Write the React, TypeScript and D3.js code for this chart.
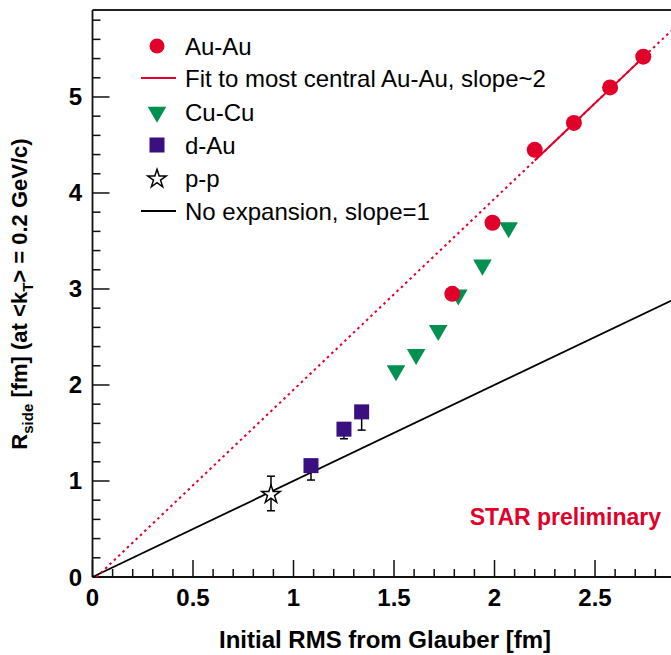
import React from "react";
import * as d3 from "d3";

// Au-Au (red circles)
const auX = [1.79, 1.99, 2.2, 2.395, 2.575, 2.74];
const auY = [2.95, 3.69, 4.45, 4.73, 5.1, 5.42];
// Cu-Cu (green down triangles)
const cuX = [1.51, 1.61, 1.72, 1.82, 1.94, 2.07];
const cuY = [2.15, 2.32, 2.57, 2.94, 3.25, 3.64];
// d-Au (purple squares) with lower errors
const dX = [1.087, 1.251, 1.339];
const dY = [1.16, 1.54, 1.72];
const dErr = [0.15, 0.1, 0.19];
// p-p (open star)
const ppX = [0.888];
const ppY = [0.87];
const ppErr = [0.18];
// fit to most central Au-Au
const fitSlope = 1.99;
const fitIntercept = -0.04;
const fitRange = [2.2, 2.74];

const xTicks = [0, 0.5, 1, 1.5, 2, 2.5];
const yTicks = [0, 1, 2, 3, 4, 5];

const legendItems = [
  "Au-Au",
  "Fit to most central Au-Au, slope~2",
  "Cu-Cu",
  "d-Au",
  "p-p",
  "No expansion, slope=1",
];

const RED = "#e0002a";
const GREEN = "#009150";
const PURPLE = "#3a0f80";

const W = 671;
const H = 655;
const m = { left: 92.5, right: 671, top: 10, bottom: 577 };

const App = () => {
  const x = d3.scaleLinear().domain([0, 2.878]).range([m.left, m.right]);
  const y = d3.scaleLinear().domain([0, 5.906]).range([m.bottom, m.top]);

  const line = d3
    .line<[number, number]>()
    .x((d) => x(d[0]))
    .y((d) => y(d[1]));
  const fit = (v: number) => fitSlope * v + fitIntercept;
  const xMax = x.domain()[1];
  const x0 = -fitIntercept / fitSlope;

  const star = d3.symbol().type(d3.symbolStar).size(105)();
  const tri = d3.symbol().type(d3.symbolTriangle).size(150)();

  const xMinor = d3.range(0, 29).map((i) => i / 10);
  const yMinor = d3.range(0, 30).map((i) => i / 5);

  const font = "'Liberation Sans', Arial, Helvetica, sans-serif";
  const legY = [46, 78, 112, 145, 178, 211];
  const legX = 157;

  return (
    <svg
      width={W}
      height={H}
      style={{ position: "absolute", left: 0, top: 0, background: "#fff" }}
      fontFamily={font}
    >
      {/* frame */}
      <line x1={m.left} x2={m.right} y1={m.top} y2={m.top} stroke="#222" strokeWidth={1.8} />
      <line x1={m.left} x2={m.left} y1={m.top} y2={m.bottom} stroke="#111" strokeWidth={1.8} />
      <line x1={m.left} x2={m.right} y1={m.bottom} y2={m.bottom} stroke="#111" strokeWidth={1.8} />

      {/* x ticks */}
      {xMinor.map((t, i) => {
        const major = i % 5 === 0;
        return (
          <line
            key={"xm" + i}
            x1={x(t)}
            x2={x(t)}
            y1={m.bottom}
            y2={m.bottom - (major ? 17 : 8)}
            stroke="#111"
            strokeWidth={1.5}
          />
        );
      })}
      {xTicks.map((t) => (
        <text
          key={"xl" + t}
          x={x(t)}
          y={606}
          textAnchor="middle"
          fontSize={24}
          fontWeight="bold"
        >
          {t}
        </text>
      ))}

      {/* y ticks */}
      {yMinor.map((t, i) => {
        const major = i % 5 === 0;
        return (
          <line
            key={"ym" + i}
            x1={m.left}
            x2={m.left + (major ? 17 : 8)}
            y1={y(t)}
            y2={y(t)}
            stroke="#111"
            strokeWidth={1.5}
          />
        );
      })}
      {yTicks.map((t) => (
        <text
          key={"yl" + t}
          x={82}
          y={y(t) + 8.5}
          textAnchor="end"
          fontSize={24}
          fontWeight="bold"
        >
          {t}
        </text>
      ))}

      {/* axis titles */}
      <text x={385} y={648} textAnchor="middle" fontSize={24} fontWeight="bold">
        Initial RMS from Glauber [fm]
      </text>
      <text
        transform={`translate(27,294) rotate(-90)`}
        textAnchor="middle"
        fontSize={22}
        fontWeight="bold"
      >
        R
        <tspan fontSize={15} dy={5.5}>side</tspan>
        <tspan dy={-5.5}> [fm] (at &lt;k</tspan>
        <tspan fontSize={15} dy={5.5}>T</tspan>
        <tspan dy={-5.5}>&gt; = 0.2 GeV/c)</tspan>
      </text>

      {/* no expansion line */}
      <path
        d={line([
          [0, 0],
          [xMax, xMax],
        ]) ?? ""}
        stroke="#000"
        strokeWidth={1.8}
        fill="none"
      />
      {/* fit: dotted extrapolation + solid range */}
      <path
        d={line([
          [x0, 0],
          [xMax, fit(xMax)],
        ]) ?? ""}
        stroke={RED}
        strokeWidth={2}
        strokeDasharray="2.5,3.5"
        fill="none"
      />
      <path
        d={line([
          [fitRange[0], fit(fitRange[0])],
          [fitRange[1], fit(fitRange[1])],
        ]) ?? ""}
        stroke={RED}
        strokeWidth={2}
        fill="none"
      />

      {/* error bars */}
      {dX.map((v, i) => (
        <g key={"de" + i} stroke="#000" strokeWidth={1.5}>
          <line x1={x(v)} x2={x(v)} y1={y(dY[i])} y2={y(dY[i] - dErr[i])} />
          <line x1={x(v) - 4} x2={x(v) + 4} y1={y(dY[i] - dErr[i])} y2={y(dY[i] - dErr[i])} />
        </g>
      ))}
      {ppX.map((v, i) => (
        <g key={"pe" + i} stroke="#000" strokeWidth={1.5}>
          <line x1={x(v)} x2={x(v)} y1={y(ppY[i] - ppErr[i])} y2={y(ppY[i] + ppErr[i])} />
          <line x1={x(v) - 4} x2={x(v) + 4} y1={y(ppY[i] - ppErr[i])} y2={y(ppY[i] - ppErr[i])} />
          <line x1={x(v) - 4} x2={x(v) + 4} y1={y(ppY[i] + ppErr[i])} y2={y(ppY[i] + ppErr[i])} />
        </g>
      ))}

      {/* markers */}
      {cuX.map((v, i) => (
        <path
          key={"cu" + i}
          d={tri ?? ""}
          transform={`translate(${x(v)},${y(cuY[i])}) rotate(180)`}
          fill={GREEN}
        />
      ))}
      {auX.map((v, i) => (
        <circle key={"au" + i} cx={x(v)} cy={y(auY[i])} r={8} fill={RED} />
      ))}
      {dX.map((v, i) => (
        <rect key={"d" + i} x={x(v) - 7.5} y={y(dY[i]) - 7.5} width={15} height={15} fill={PURPLE} />
      ))}
      {ppX.map((v, i) => (
        <path
          key={"pp" + i}
          d={star ?? ""}
          transform={`translate(${x(v)},${y(ppY[i]) + 1})`}
          fill="#fff"
          stroke="#000"
          strokeWidth={1.5}
        />
      ))}

      {/* legend */}
      <circle cx={legX} cy={legY[0]} r={7.5} fill={RED} />
      <line x1={141} x2={176} y1={legY[1]} y2={legY[1]} stroke={RED} strokeWidth={1.8} />
      <path d={tri ?? ""} transform={`translate(${legX},${legY[2]}) rotate(180)`} fill={GREEN} />
      <rect x={legX - 7.5} y={legY[3] - 7.5} width={15} height={15} fill={PURPLE} />
      <path d={star ?? ""} transform={`translate(${legX},${legY[4] + 1})`} fill="#fff" stroke="#000" strokeWidth={1.5} />
      <line x1={141} x2={176} y1={legY[5]} y2={legY[5]} stroke="#000" strokeWidth={1.8} />
      {legendItems.map((t, i) => (
        <text key={"lt" + i} x={185} y={legY[i] + 8.5} fontSize={24}>
          {t}
        </text>
      ))}

      <text x={661} y={525} textAnchor="end" fontSize={23} fontWeight="bold" fill={RED}>
        STAR preliminary
      </text>
    </svg>
  );
};

export default App;
